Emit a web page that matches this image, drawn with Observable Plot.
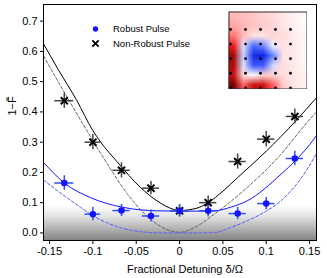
<!DOCTYPE html>
<html><head><meta charset="utf-8">
<script src="https://cdn.jsdelivr.net/npm/d3@7"></script>
<script src="https://cdn.jsdelivr.net/npm/@observablehq/plot@0.6"></script>
<style>
html,body{margin:0;padding:0;background:#fff;}
#wrap{position:relative;width:327px;height:278px;}
#inset{position:absolute;left:228px;top:11px;line-height:0;}
</style></head><body><div id="wrap"><div id="main"></div><div id="inset"></div></div>
<script>
// ---- tick labels ----
const xTicks = [-0.15, -0.1, -0.05, 0, 0.05, 0.1, 0.15];
const xTickLabels = ["-0.15", "-0.1", "-0.05", "0", "0.05", "0.1", "0.15"];
const yTicks = [0, 0.1, 0.2, 0.3, 0.4, 0.5, 0.6, 0.7];
const yTickLabels = ["0.0", "0.1", "0.2", "0.3", "0.4", "0.5", "0.6", "0.7"];

// ---- measured points ----
const detuning    = [-0.133, -0.1, -0.067, -0.033, 0, 0.033, 0.067, 0.1, 0.133];
const detuningErr = [0.011, 0.009, 0.01, 0.01, 0.01, 0.01, 0.01, 0.01, 0.01];
const robust      = [0.165, 0.062, 0.074, 0.056, 0.073, 0.073, 0.064, 0.097, 0.246];
const robustErr   = [0.024, 0.022, 0.02, 0.02, 0.02, 0.02, 0.02, 0.02, 0.024];
const nonRobust   = [0.437, 0.300, 0.207, 0.148, 0.073, 0.100, 0.236, 0.310, 0.385];
const nonRobustErr= [0.025, 0.025, 0.025, 0.022, 0.02, 0.022, 0.025, 0.025, 0.025];

// ---- theory curves ----
const robustFitX = [-0.157, -0.132, -0.103, -0.064, -0.026, 0, 0.02, 0.04, 0.06, 0.078, 0.117, 0.135, 0.155, 0.158];
const robustFitY = [0.233, 0.163, 0.117, 0.084, 0.073, 0.072, 0.072, 0.073, 0.086, 0.106, 0.194, 0.243, 0.31, 0.322];
const robustNomX = [-0.157, -0.135, -0.114, -0.103, -0.084, -0.064, -0.045, -0.02, 0, 0.02, 0.04, 0.059, 0.078, 0.1, 0.117, 0.14, 0.158];
const robustNomY = [0.175, 0.127, 0.084, 0.062, 0.034, 0.014, 0.004, 0.0, 0.0, 0.0, 0.001, 0.018, 0.04, 0.072, 0.106, 0.18, 0.262];
const nonRobustFitX = [-0.157, -0.14, -0.119, -0.1, -0.091, -0.072, -0.045, -0.026, -0.007, 0, 0.02, 0.033, 0.05, 0.067, 0.1, 0.134, 0.158];
const nonRobustFitY = [0.625, 0.54, 0.44, 0.338, 0.3, 0.235, 0.15, 0.106, 0.078, 0.074, 0.082, 0.1, 0.138, 0.183, 0.27, 0.37, 0.447];
const nonRobustNomX = [-0.157, -0.13, -0.1, -0.087, -0.06, -0.0335, -0.0104, 0, 0.02, 0.04, 0.078, 0.117, 0.147, 0.158];
const nonRobustNomY = [0.585, 0.45, 0.305, 0.245, 0.128, 0.045, 0.007, 0.002, 0.022, 0.062, 0.15, 0.26, 0.365, 0.40];

// ---- legend ----
const legendLabels = ["Robust Pulse", "Non-Robust Pulse"];

// ---- inset heat map (8x8 grid, negative = red, positive = blue) ----
const insetValues = [
  -0.16, -0.14, -0.12, -0.10, -0.08, -0.05, -0.03, -0.01,
  -0.20, -0.16, -0.13, -0.11, -0.09, -0.06, -0.03, -0.01,
  -0.30, -0.15, -0.06, -0.06, -0.09, -0.08, -0.04, -0.02,
  -0.55,  0.10,  0.50,  0.40,  0.05, -0.07, -0.05, -0.02,
  -0.85,  0.15,  0.85,  0.90,  0.40, -0.06, -0.05, -0.02,
  -0.80,  0.10,  0.60,  0.55,  0.12, -0.07, -0.05, -0.02,
  -0.70, -0.08,  0.00, -0.10, -0.10, -0.08, -0.05, -0.03,
  -1.00, -0.35, -0.70, -0.70, -0.35, -0.12, -0.06, -0.03
];
const insetCols = 8, insetRows = 8;
const dotCols = [0, 1, 2, 3, 4];
const dotRows = [0, 1, 2, 3, 4];

const points = detuning.map((x, i) => ({
  x, xErr: detuningErr[i],
  robust: robust[i], rErr: robustErr[i],
  non: nonRobust[i], nErr: nonRobustErr[i]
}));
const curve = (xs, ys) => xs.map((x, i) => ({x, y: ys[i]}));

const font = "'Liberation Sans', Arial, sans-serif";
const blue = "#1414ff";

const main = Plot.plot({
  width: 327, height: 278,
  marginLeft: 43, marginRight: 11, marginTop: 4, marginBottom: 38,
  style: {fontFamily: font, fontSize: "11px", background: "white", color: "black"},
  x: {domain: [-0.157, 0.158]},
  y: {domain: [-0.025, 0.755]},
  marks: [
    Plot.rect([0], {x1: -0.157, x2: 0.158, y1: -0.025, y2: 0.09, fill: "url(#bandGrad)"}),
    Plot.line(curve(nonRobustNomX, nonRobustNomY), {x: "x", y: "y", stroke: "#666", strokeWidth: 1, strokeDasharray: "3,2", curve: "monotone-x", clip: true}),
    Plot.line(curve(robustNomX, robustNomY), {x: "x", y: "y", stroke: "#5a5aff", strokeWidth: 1, strokeDasharray: "3,2", curve: "monotone-x", clip: true}),
    Plot.line(curve(nonRobustFitX, nonRobustFitY), {x: "x", y: "y", stroke: "black", strokeWidth: 1, curve: "monotone-x", clip: true}),
    Plot.line(curve(robustFitX, robustFitY), {x: "x", y: "y", stroke: blue, strokeWidth: 1, curve: "monotone-x", clip: true}),
    // error bars
    Plot.ruleY(points, {y: "non", x1: d => d.x - d.xErr, x2: d => d.x + d.xErr, stroke: "#444", strokeWidth: 1.5}),
    Plot.ruleX(points, {x: "x", y1: d => d.non - d.nErr, y2: d => d.non + d.nErr, stroke: "#444", strokeWidth: 1.5}),
    Plot.ruleY(points, {y: "robust", x1: d => d.x - d.xErr, x2: d => d.x + d.xErr, stroke: "#3050ff", strokeWidth: 1.5}),
    Plot.ruleX(points, {x: "x", y1: d => d.robust - d.rErr, y2: d => d.robust + d.rErr, stroke: "#3050ff", strokeWidth: 1.5}),
    Plot.dot(points, {x: "x", y: "non", symbol: "times", r: 3.3, stroke: "black", strokeWidth: 2}),
    Plot.dot(points, {x: "x", y: "robust", r: 3.3, fill: blue}),
    Plot.frame({stroke: "black", strokeWidth: 1}),
    // legend
    Plot.dot([0], {frameAnchor: "top-left", dx: 52, dy: 24.5, r: 2.7, fill: blue}),
    Plot.dot([0], {frameAnchor: "top-left", dx: 52, dy: 39, r: 3, symbol: "times", stroke: "black", strokeWidth: 1.8}),
    Plot.text([legendLabels[0]], {frameAnchor: "top-left", dx: 69.5, dy: 24.5, textAnchor: "start", lineAnchor: "middle", fontSize: 9.5}),
    Plot.text([legendLabels[1]], {frameAnchor: "top-left", dx: 69.5, dy: 39, textAnchor: "start", lineAnchor: "middle", fontSize: 9.5}),
    // axes
    Plot.axisX(xTicks, {tickFormat: d => xTickLabels[xTicks.indexOf(d)], tickSize: 4, tickPadding: 3, fontSize: 11, label: null}),
    Plot.axisY(yTicks, {tickFormat: d => yTickLabels[yTicks.indexOf(d)], tickSize: 3, tickPadding: 3, fontSize: 11, label: null}),
    Plot.text(["Fractional Detuning δ/Ω"], {frameAnchor: "bottom", dy: 29, dx: 5, lineAnchor: "middle", fontSize: 11}),
    Plot.text(["1\u2212F\u0303"], {frameAnchor: "left", dx: -31, dy: -7, rotate: -90, lineAnchor: "middle", fontSize: 11})
  ]
});
main.insertAdjacentHTML("afterbegin",
  '<defs><linearGradient id="bandGrad" x1="0" y1="0" x2="0" y2="1">' +
  '<stop offset="0" stop-color="#ffffff"/><stop offset="0.3" stop-color="#e6e6e6"/>' +
  '<stop offset="1" stop-color="#848484"/></linearGradient></defs>');
document.getElementById("main").appendChild(main);

const inset = Plot.plot({
  width: 79, height: 78, margin: 0,
  style: {background: "white"},
  x: {domain: [-0.133, 5.133], range: [0, 79], axis: null},
  y: {domain: [-1.235, 4.115], range: [0, 78], axis: null},
  color: {type: "linear", domain: [-1, -0.5, 0, 0.5, 1], range: ["#780000", "#ff1c1c", "#ffffff", "#4868ff", "#0012e0"]},
  marks: [
    Plot.raster(insetValues, {width: insetCols, height: insetRows, x1: -0.133, x2: 5.133, y1: -1.235, y2: 4.115}),
    Plot.dot(d3.cross(dotCols, dotRows), {x: d => d[0], y: d => d[1], r: 1.4, fill: "black"}),
    Plot.frame({stroke: "#333", strokeWidth: 1, inset: 0.5})
  ]
});
document.getElementById("inset").appendChild(inset);
</script></body></html>
